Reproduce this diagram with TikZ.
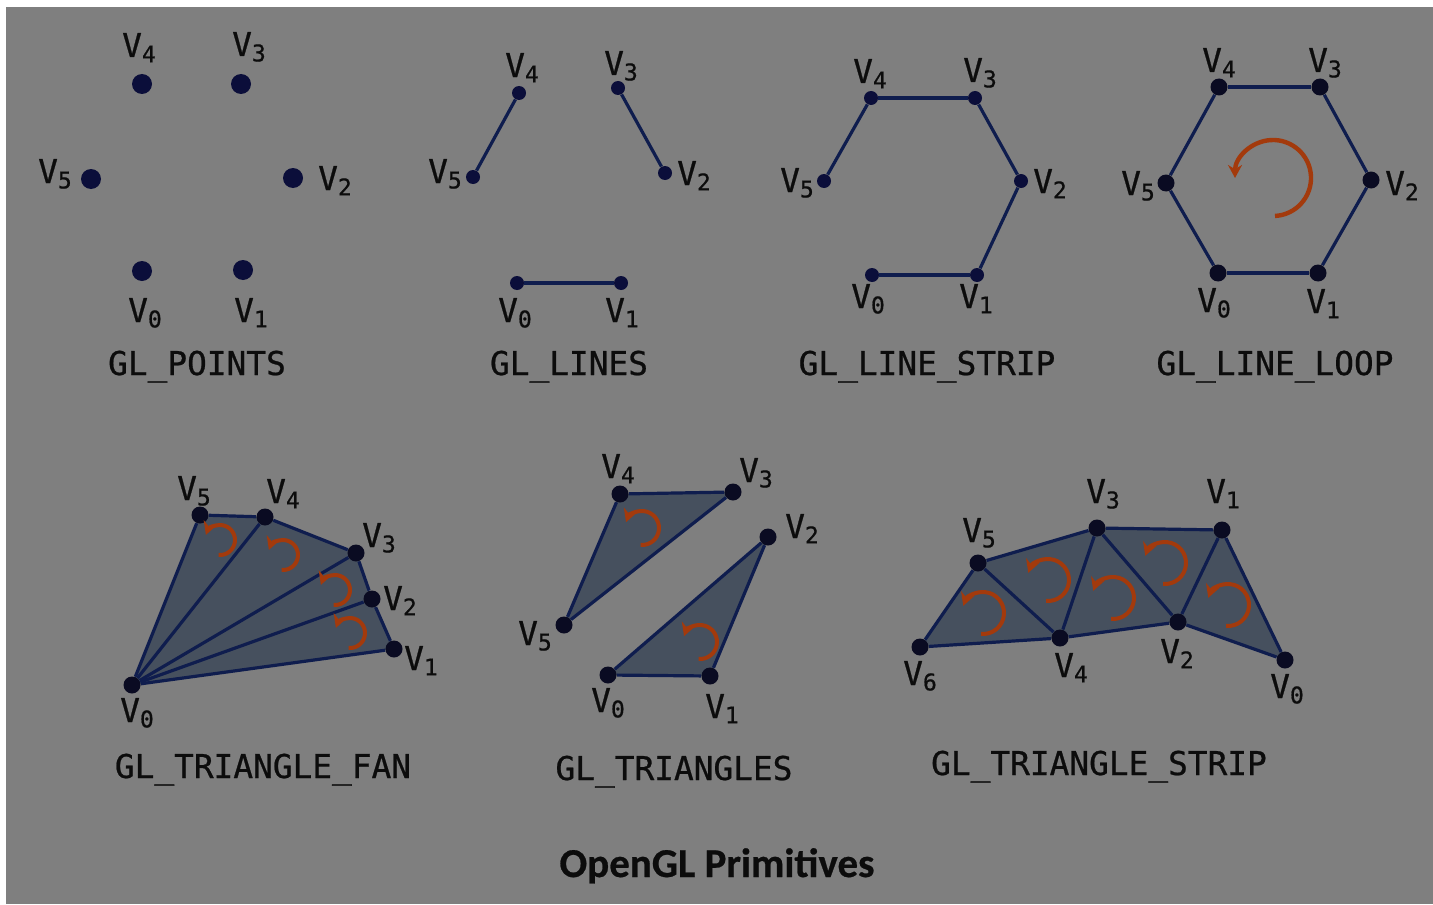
\documentclass[tikz,border=0pt]{standalone}
\usepackage{fontspec}
\setmonofont[FakeBold=0.7]{DejaVu Sans Mono}
\newfontfamily\titlefont[FakeBold=0.6]{Carlito}
\usetikzlibrary{backgrounds, arrows.meta}

\definecolor{bgc}{HTML}{7F7F7F}
\definecolor{navy}{HTML}{0F1D4E}
\definecolor{ptc}{HTML}{0B0E3A}
\definecolor{dotc}{HTML}{0A0B22}
\definecolor{trifill}{HTML}{46505E}
\definecolor{spinc}{HTML}{A33A0C}
\definecolor{ink}{HTML}{0C0C0C}

\newcommand{\vsub}[1]{V\raisebox{-0.3ex}{\fontsize{11.5}{11.5}\selectfont #1}}

\begin{document}
\begin{tikzpicture}[x=0.5pt, y=-0.5pt, >={Stealth[length=6.5pt, width=7pt]},
        font=\ttfamily\fontsize{16.4}{19}\selectfont, text=ink,
        lbl/.style={anchor=base, inner sep=0pt},
        pdot/.style={circle, fill=ptc, inner sep=0pt, minimum size=10pt},
        sdot/.style={circle, fill=ptc, inner sep=0pt, minimum size=7pt},
        mdot/.style={circle, fill=dotc, inner sep=0pt, minimum size=8.5pt},
        edge/.style={draw=navy, line width=1.6pt},
        tri/.style={fill=trifill},
        spin/.style={draw=spinc, line width=2pt, ->}]
        % ---- background ----
        \begin{pgfonlayer}{background}
          \fill[white] (0,0) rectangle (1433,904);
          \fill[bgc] (6,7) rectangle (1433,904);
        \end{pgfonlayer}
        \useasboundingbox (0,0) rectangle (1433,904);
        % ---- GL_POINTS ----
        \node[pdot] (p0) at (142,271) {};
        \node[pdot] (p1) at (243,270) {};
        \node[pdot] (p2) at (293,178) {};
        \node[pdot] (p3) at (241,84)  {};
        \node[pdot] (p4) at (142,84)  {};
        \node[pdot] (p5) at (91,179)  {};
        \foreach \n/\x/\y in {0/145/322, 1/251/322, 2/335/190, 3/249/56, 4/139/57, 5/55/183}
          \node[lbl] (p\n l) at (\x,\y) {\vsub{\n}};
        \node[lbl] (ptitle) at (197,375) {GL\_POINTS};
        % ---- GL_LINES ----
        \node[sdot] (l0) at (517,283) {};
        \node[sdot] (l1) at (621,283) {};
        \node[sdot] (l2) at (665,173) {};
        \node[sdot] (l3) at (618,88)  {};
        \node[sdot] (l4) at (519,93)  {};
        \node[sdot] (l5) at (473,177) {};
        \foreach \a/\b in {l0/l1, l2/l3, l4/l5}
          \draw[edge] (\a) -- (\b);
        \foreach \n/\x/\y in {0/515/322, 1/622/322, 2/694/185, 3/621/75, 4/522/77, 5/445/183}
          \node[lbl] (l\n l) at (\x,\y) {\vsub{\n}};
        \node[lbl] (ltitle) at (569,375) {GL\_LINES};
        % ---- GL_LINE_STRIP ----
        \node[sdot] (s0) at (872,275) {};
        \node[sdot] (s1) at (977,275) {};
        \node[sdot] (s2) at (1021,181) {};
        \node[sdot] (s3) at (975,98)  {};
        \node[sdot] (s4) at (871,98)  {};
        \node[sdot] (s5) at (824,181) {};
        \foreach \a/\b in {s0/s1, s1/s2, s2/s3, s3/s4, s4/s5}
          \draw[edge] (\a) -- (\b);
        \foreach \n/\x/\y in {0/868/308, 1/976/308, 2/1050/193, 3/980/82, 4/870/83, 5/797/192}
          \node[lbl] (s\n l) at (\x,\y) {\vsub{\n}};
        \node[lbl] (stitle) at (927,375) {GL\_LINE\_STRIP};
        % ---- GL_LINE_LOOP ----
        \node[mdot] (o0) at (1218,273) {};
        \node[mdot] (o1) at (1318,273) {};
        \node[mdot] (o2) at (1371,180) {};
        \node[mdot] (o3) at (1320,87)  {};
        \node[mdot] (o4) at (1219,87)  {};
        \node[mdot] (o5) at (1166,183) {};
        \foreach \a/\b in {o0/o1, o1/o2, o2/o3, o3/o4, o4/o5, o5/o0}
          \draw[edge] (\a) -- (\b);
        \draw[spin, line width=2.2pt] (1273,178) ++(87:38) arc[start angle=87, end angle=-180, radius=38];
        \foreach \n/\x/\y in {0/1214/312, 1/1323/313, 2/1402/195, 3/1325/72, 4/1219/72, 5/1138/195}
          \node[lbl] (o\n l) at (\x,\y) {\vsub{\n}};
        \node[lbl] (otitle) at (1275,375) {GL\_LINE\_LOOP};
        % ---- GL_TRIANGLE_FAN ----
        \node[mdot] (f0) at (132,685) {};
        \node[mdot] (f1) at (394,649) {};
        \node[mdot] (f2) at (372,599) {};
        \node[mdot] (f3) at (356,553) {};
        \node[mdot] (f4) at (265,517) {};
        \node[mdot] (f5) at (200,515) {};
        \begin{pgfonlayer}{background}
          \fill[tri] (f0.center) -- (f1.center) -- (f2.center) -- (f3.center) -- (f4.center) -- (f5.center) -- cycle;
        \end{pgfonlayer}
        \foreach \a/\b in {f0/f1, f0/f2, f0/f3, f0/f4, f0/f5, f1/f2, f2/f3, f3/f4, f4/f5}
          \draw[edge] (\a) -- (\b);
        \foreach \x/\y in {220/540, 283/555, 335/590, 350/633}
          \draw[spin] (\x,\y) ++(95:15) arc[start angle=95, end angle=-160, radius=15];
        \foreach \n/\x/\y in {0/137/722, 1/421/670, 2/400/610, 3/379/547, 4/283/503, 5/194/500}
          \node[lbl] (f\n l) at (\x,\y) {\vsub{\n}};
        \node[lbl] (ftitle) at (263,778) {GL\_TRIANGLE\_FAN};
        % ---- GL_TRIANGLES ----
        \node[mdot] (t0) at (608,675) {};
        \node[mdot] (t1) at (710,676) {};
        \node[mdot] (t2) at (768,537) {};
        \node[mdot] (t3) at (733,492) {};
        \node[mdot] (t4) at (620,494) {};
        \node[mdot] (t5) at (564,625) {};
        \begin{pgfonlayer}{background}
          \fill[tri] (t0.center) -- (t1.center) -- (t2.center) -- cycle;
          \fill[tri] (t3.center) -- (t4.center) -- (t5.center) -- cycle;
        \end{pgfonlayer}
        \foreach \a/\b in {t0/t1, t1/t2, t2/t0, t3/t4, t4/t5, t5/t3}
          \draw[edge] (\a) -- (\b);
        \foreach \x/\y in {642/528, 700/642}
          \draw[spin] (\x,\y) ++(95:17) arc[start angle=95, end angle=-160, radius=17];
        \foreach \n/\x/\y in {0/608/712, 1/722/718, 2/802/538, 3/756/482, 4/618/478, 5/535/645}
          \node[lbl] (t\n l) at (\x,\y) {\vsub{\n}};
        \node[lbl] (ttitle) at (674,780) {GL\_TRIANGLES};
        % ---- GL_TRIANGLE_STRIP ----
        \node[mdot] (r0) at (1285,660) {};
        \node[mdot] (r1) at (1222,530) {};
        \node[mdot] (r2) at (1178,622) {};
        \node[mdot] (r3) at (1097,528) {};
        \node[mdot] (r4) at (1060,638) {};
        \node[mdot] (r5) at (978,563)  {};
        \node[mdot] (r6) at (920,647)  {};
        \begin{pgfonlayer}{background}
          \fill[tri] (r6.center) -- (r5.center) -- (r3.center) -- (r1.center) -- (r0.center) -- (r2.center) -- (r4.center) -- cycle;
        \end{pgfonlayer}
        \foreach \a/\b in {r0/r1, r0/r2, r1/r2, r1/r3, r2/r3, r2/r4, r3/r4, r3/r5, r4/r5, r4/r6, r5/r6}
          \draw[edge] (\a) -- (\b);
        \foreach \x/\y in {983/613, 1048/580, 1113/598, 1165/563, 1228/605}
          \draw[spin] (\x,\y) ++(95:21) arc[start angle=95, end angle=-160, radius=21];
        \foreach \n/\x/\y in {0/1287/698, 1/1223/503, 2/1177/663, 3/1103/503, 4/1071/677, 5/979/542, 6/920/685}
          \node[lbl] (r\n l) at (\x,\y) {\vsub{\n}};
        \node[lbl] (rtitle) at (1099,775) {GL\_TRIANGLE\_STRIP};
        % ---- title ----
        \node[lbl, font=\titlefont\bfseries\fontsize{20.5}{24}\selectfont] (maintitle) at (717,877) {OpenGL Primitives};
\end{tikzpicture}
\end{document}
